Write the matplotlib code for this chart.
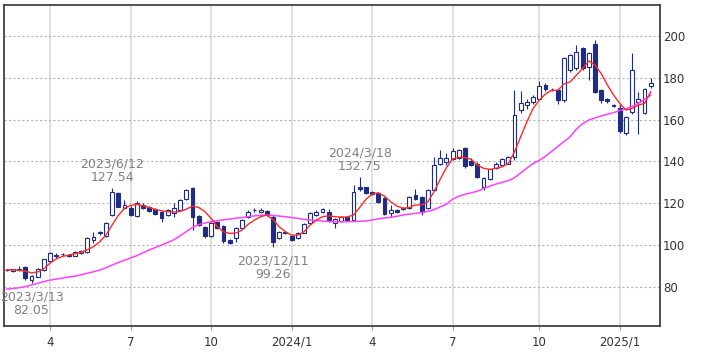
import matplotlib
matplotlib.use("Agg")
import matplotlib.pyplot as plt
import numpy as np
import pandas as pd

# weekly candles, Monday of each week
weeks = pd.date_range("2023-02-13", periods=105, freq="7D")

opens = [88.2, 87.6, 88.3, 89.5, 83.5, 85.0, 88.2, 92.5, 94.8, 95.6,
         95.5, 95.0, 96.2, 96.8, 102.6, 105.8, 104.5, 114.5, 125.0, 117.8,
         117.8, 114.0, 119.2, 118.3, 117.2, 115.7, 114.4, 115.2, 116.8, 122.0,
         127.1, 114.0, 108.8, 104.5, 111.2, 109.2, 102.4, 103.2, 108.2, 113.6,
         116.6, 115.7, 116.2, 113.5, 103.2, 106.3, 104.5, 103.4, 106.0, 110.5,
         114.4, 116.0, 115.8, 110.7, 111.6, 113.6, 112.0, 128.0, 127.6, 125.5,
         125.0, 122.3, 115.5, 117.0, 117.4, 117.6, 124.0, 123.1, 117.6, 126.3,
         139.0, 139.8, 141.2, 141.8, 146.2, 140.3, 139.0, 127.6, 131.4, 136.7,
         138.3, 139.0, 142.0, 164.6, 166.8, 168.5, 169.8, 176.5, 174.3, 174.0,
         169.5, 183.6, 184.4, 194.3, 185.2, 196.2, 174.0, 170.0, 166.8, 165.5,
         153.4, 163.4, 168.6, 163.2, 175.8]
highs = [88.8, 88.8, 90.0, 90.0, 85.6, 89.0, 93.6, 96.8, 96.2, 96.2,
         96.0, 97.0, 97.8, 103.8, 106.4, 106.6, 111.0, 127.54, 125.5, 121.5,
         118.5, 121.0, 120.0, 118.8, 117.8, 116.3, 117.3, 120.0, 122.0, 126.8,
         127.6, 114.5, 109.3, 111.0, 111.7, 109.6, 102.8, 108.8, 112.5, 117.0,
         117.6, 117.8, 117.0, 114.6, 106.8, 106.8, 105.0, 106.4, 110.5, 115.8,
         116.6, 117.8, 117.2, 112.8, 113.8, 114.0, 128.7, 132.75, 128.0, 126.0,
         125.5, 122.8, 119.0, 117.5, 118.0, 123.6, 126.7, 123.5, 126.8, 142.2,
         145.4, 144.0, 146.6, 146.0, 146.7, 141.5, 139.5, 132.4, 136.6, 139.8,
         141.5, 142.4, 174.0, 173.8, 170.0, 171.8, 178.6, 177.5, 175.0, 174.5,
         189.7, 191.5, 195.5, 194.8, 192.2, 198.0, 174.5, 170.5, 167.5, 167.5,
         161.6, 191.6, 173.0, 175.0, 179.6]
lows = [87.5, 87.2, 87.8, 83.3, 82.05, 84.6, 87.8, 92.0, 94.0, 95.0,
        94.3, 94.8, 95.8, 96.3, 101.0, 105.0, 104.0, 114.0, 118.0, 117.2,
        114.0, 113.6, 117.2, 115.8, 114.3, 111.2, 114.0, 113.6, 116.3, 121.5,
        107.2, 109.0, 103.4, 103.8, 107.6, 101.0, 100.5, 101.5, 107.8, 113.0,
        116.0, 115.3, 114.0, 99.26, 102.8, 105.5, 102.0, 102.8, 105.6, 110.0,
        114.0, 115.6, 111.0, 108.0, 111.2, 111.6, 111.6, 126.0, 124.6, 124.0,
        120.3, 114.5, 113.5, 115.2, 116.8, 117.2, 121.5, 114.4, 117.2, 125.8,
        138.4, 138.3, 140.8, 141.2, 137.0, 137.6, 132.3, 126.3, 131.0, 136.3,
        138.0, 138.6, 140.5, 163.0, 164.8, 167.5, 169.3, 173.8, 173.4, 167.5,
        168.5, 182.5, 183.8, 183.8, 178.9, 172.8, 168.0, 168.0, 165.8, 153.8,
        152.6, 162.8, 153.0, 162.6, 175.2]
closes = [88.0, 88.4, 88.6, 84.3, 85.2, 88.5, 93.2, 96.3, 95.5, 95.8,
          95.0, 96.6, 97.3, 103.3, 104.0, 106.2, 110.5, 125.5, 118.4, 119.2,
          114.4, 120.0, 117.7, 116.3, 114.8, 113.2, 116.8, 117.6, 121.5, 126.3,
          113.6, 109.6, 104.5, 110.4, 108.2, 102.2, 101.0, 108.3, 112.0, 116.0,
          116.9, 116.8, 114.6, 101.6, 106.4, 105.9, 102.6, 106.0, 110.0, 115.3,
          116.0, 117.2, 111.8, 112.3, 113.3, 112.0, 125.5, 126.6, 125.0, 124.4,
          120.7, 114.9, 117.0, 116.0, 117.6, 123.1, 121.9, 116.0, 126.3, 138.3,
          141.4, 141.4, 145.0, 145.4, 137.8, 138.3, 132.7, 131.9, 136.2, 139.0,
          141.0, 141.9, 162.0, 167.8, 168.6, 170.6, 175.8, 174.8, 173.9, 169.3,
          189.2, 191.0, 192.4, 184.4, 191.6, 173.3, 169.3, 168.8, 166.3, 154.3,
          161.0, 183.6, 170.0, 174.4, 177.4]

# short and long moving averages as drawn on the chart
ma_short = [88.3, 88.2, 88.0, 87.6, 86.8, 87.2, 88.8, 91.5, 93.5, 94.6,
            95.3, 95.9, 96.6, 97.8, 99.3, 101.6, 104.8, 109.6, 114.2, 117.6,
            119.0, 119.5, 118.8, 118.0, 117.1, 116.4, 116.0, 115.8, 116.1, 117.2,
            118.7, 118.0, 116.0, 112.8, 108.8, 106.4, 105.6, 105.8, 107.2, 110.0,
            112.0, 113.6, 114.4, 112.2, 108.8, 106.4, 104.8, 104.8, 106.4, 109.6,
            112.0, 113.6, 114.0, 113.6, 113.4, 113.5, 114.4, 118.0, 121.9, 124.4,
            125.0, 123.4, 120.7, 118.7, 117.6, 118.0, 119.2, 119.2, 120.7, 125.5,
            131.5, 137.0, 141.2, 142.0, 141.9, 141.0, 138.3, 136.7, 136.2, 136.7,
            137.4, 139.0, 144.6, 151.8, 158.9, 165.3, 169.3, 172.2, 174.0, 174.0,
            177.0, 178.0, 181.2, 184.4, 188.0, 186.0, 182.0, 176.5, 171.7, 167.7,
            164.5, 165.3, 166.9, 167.7, 173.3]
ma_long = [79.0, 79.3, 79.7, 80.2, 81.0, 81.8, 82.6, 83.3, 83.8, 84.3,
           84.8, 85.2, 85.9, 86.6, 87.3, 88.1, 89.2, 90.5, 91.7, 92.8,
           93.9, 95.0, 96.4, 97.7, 98.9, 100.1, 101.3, 102.6, 104.5, 106.5,
           108.5, 109.8, 110.6, 111.2, 111.7, 112.1, 112.5, 112.9, 113.2, 113.6,
           114.0, 114.3, 114.4, 114.2, 113.9, 113.6, 113.2, 112.8, 112.3, 112.0,
           111.8, 111.5, 111.3, 111.2, 111.2, 111.2, 111.3, 111.4, 111.6, 112.0,
           112.6, 113.0, 113.3, 113.8, 114.4, 114.8, 115.2, 115.6, 116.2, 117.0,
           118.3, 119.6, 122.0, 123.4, 124.3, 125.0, 125.8, 127.0, 128.2, 129.2,
           130.0, 130.8, 132.2, 134.5, 136.8, 139.0, 140.5, 142.5, 144.8, 147.2,
           149.5, 151.8, 155.5, 158.0, 159.8, 160.8, 161.7, 162.5, 163.3, 164.3,
           165.2, 166.2, 167.8, 169.6, 171.7]

# (week, value, above/below) for the price labels
marks = [("2023-03-13", 82.05, "low"), ("2023-06-12", 127.54, "high"),
         ("2023-12-11", 99.26, "low"), ("2024-03-18", 132.75, "high")]

NAVY = "#1f2c86"
GRAY_TXT = "#808080"

fig = plt.figure(figsize=(7.09, 3.54), dpi=100)
ax = fig.add_axes([4 / 709, 28 / 354, 656 / 709, 321 / 354])

x = np.arange(len(weeks))
o = np.array(opens)
c = np.array(closes)
up = c >= o

ax.vlines(x, lows, highs, color=NAVY, lw=0.8, zorder=3)
body_lo = np.minimum(o, c)
body_h = np.maximum(np.abs(c - o), 0.25)
ax.bar(x[up], body_h[up], bottom=body_lo[up], width=0.62,
       facecolor="white", edgecolor=NAVY, linewidth=0.8, zorder=4)
ax.bar(x[~up], body_h[~up], bottom=body_lo[~up], width=0.62,
       facecolor=NAVY, edgecolor=NAVY, linewidth=0.8, zorder=4)

ax.plot(x, ma_long, color="#ff40ff", lw=1.1, zorder=5)
ax.plot(x, ma_short, color="#ff2a2a", lw=1.0, zorder=5)

for d, v, kind in marks:
    i = int(np.where(weeks == pd.Timestamp(d))[0][0])
    label = f"{pd.Timestamp(d).year}/{pd.Timestamp(d).month}/{pd.Timestamp(d).day}\n{v:.2f}"
    if kind == "high":
        ax.annotate(label, (i, v), xytext=(0, 4), textcoords="offset pixels",
                    ha="center", va="bottom", fontsize=9, color=GRAY_TXT,
                    linespacing=1.0, zorder=6)
    else:
        ax.annotate(label, (i, v), xytext=(0, -8), textcoords="offset pixels",
                    ha="center", va="top", fontsize=9, color=GRAY_TXT,
                    linespacing=1.0, zorder=6)

# quarter ticks at the first week of Jan/Apr/Jul/Oct
tick_pos, tick_lab = [], []
for i, d in enumerate(weeks):
    if d.month in (1, 4, 7, 10) and d.day <= 7:
        tick_pos.append(i)
        tick_lab.append(f"{d.year}/1" if d.month == 1 else str(d.month))

ax.set_xlim(-0.45, 105.5)
ax.set_ylim(61.4, 214.7)
ax.set_xticks(tick_pos)
ax.set_xticklabels(tick_lab)
ax.set_yticks(np.arange(80, 201, 20))
ax.yaxis.tick_right()
ax.tick_params(axis="x", length=3, color="#999999", labelsize=8.5,
               labelcolor="#333333", pad=4)
ax.tick_params(axis="y", length=0, labelsize=8.5, labelcolor="#333333", pad=2)

ax.grid(axis="y", color="#b4b4b4", linestyle=(0, (2, 2)), lw=0.8, zorder=0)
ax.grid(axis="x", color="#dedede", linestyle="-", lw=1.3, zorder=0)
ax.set_axisbelow(True)
for s in ax.spines.values():
    s.set_color("#333333")
    s.set_linewidth(1.2)

fig.savefig("out.png", dpi=100)
